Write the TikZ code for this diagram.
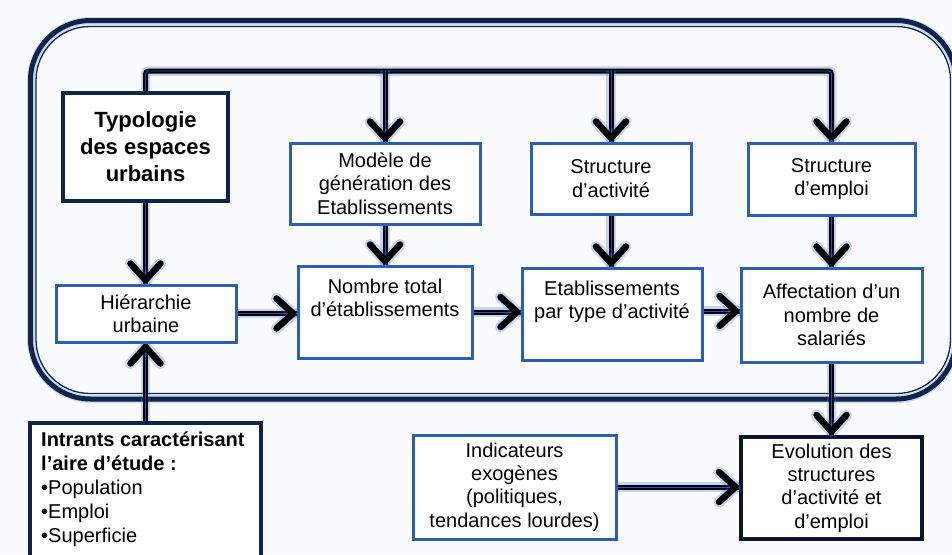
\documentclass[tikz,border=0pt]{standalone}
\usepackage{fontspec}
\setmainfont{Liberation Sans}
\usetikzlibrary{decorations.markings,calc}
\definecolor{bg}{RGB}{249,251,254}
\definecolor{navy}{RGB}{14,36,74}
\definecolor{boxblue}{RGB}{44,94,178}
\definecolor{darkb}{RGB}{10,20,45}
\definecolor{glow}{RGB}{70,125,215}
\definecolor{core}{RGB}{40,80,170}
\newcommand\ntxt{\fontsize{20}{23.3}\selectfont}
\newcommand\btxt{\fontsize{22}{27}\selectfont\bfseries}
\newcommand\itxt{\fontsize{20}{23.8}\selectfont}
\tikzset{
  chev/.style={line width=6.5pt, line cap=round, line join=round, draw=black},
  chevglow/.style={line width=11pt, line cap=round, line join=round, draw=glow, draw opacity=0.3},
  flow/.style={draw=black, line width=5pt,
    preaction={draw=glow, draw opacity=0.3, line width=9.5pt},
    postaction={draw=core, line width=0.8pt},
    postaction={decorate, decoration={markings, mark=at position 1 with {
      \draw[chevglow] (-20pt,15pt) -- (-3.5pt,0pt) -- (-20pt,-15pt);
      \draw[chev] (-20pt,15pt) -- (-3.5pt,0pt) -- (-20pt,-15pt);}}}},
  bluebox/.style={draw=boxblue, line width=3pt, fill=white, align=center, inner sep=0pt, font=\ntxt},
  navybox/.style={draw=navy, line width=4.5pt, fill=white, align=center, inner sep=0pt},
  blackbox/.style={draw=darkb, line width=4pt, fill=white, align=center, inner sep=0pt, font=\ntxt},
  txt/.style={inner sep=0pt, align=center, font=\ntxt},
}
\begin{document}
\begin{tikzpicture}[x=1pt,y=-1pt]
\useasboundingbox (0,0) rectangle (952,554);
\fill[bg] (0,0) rectangle (952,554);
\begin{scope}
\clip (0,0) rectangle (952,554);
% outer frame (double line)
\draw[glow, draw opacity=0.25, line width=8pt, rounded corners=60pt] (31,21) rectangle (956,399);
\draw[navy, line width=5pt, rounded corners=60pt] (30.5,20.5) rectangle (956,399);
\draw[navy, line width=1.3pt, rounded corners=54pt] (36,26.5) rectangle (950.5,393.5);
\end{scope}

% boxes
\node[navybox, font=\btxt, minimum width=165pt, minimum height=108pt] (typ) at (145.5,147) {Typologie\\des espaces\\urbains};
\node[bluebox, minimum width=190pt, minimum height=81pt] (mod) at (385,183.5) {Modèle de\\génération des\\Etablissements};
\node[bluebox, minimum width=160pt, minimum height=71pt] (sa) at (611,178.5) {Structure\\d’activité};
\node[bluebox, minimum width=167pt, minimum height=72pt] (se) at (831.5,179) {Structure\\d’emploi};
\node[bluebox, minimum width=180pt, minimum height=57pt] (hier) at (146,313.5) {Hiérarchie\\urbaine};
\node[bluebox, minimum width=174pt, minimum height=92pt] (nom) at (385,312) {};
\node[txt, anchor=north] at ([yshift=-14pt]nom.north) {Nombre total\\d’établissements};
\node[bluebox, minimum width=180pt, minimum height=92pt] (etab) at (612,314) {};
\node[txt, anchor=north] at ([yshift=-14pt]etab.north) {Etablissements\\par type d’activité};
\node[bluebox, minimum width=181pt, minimum height=94pt] (aff) at (831.5,315) {Affectation d’un\\nombre de\\salariés};
\node[navybox, line width=4pt, minimum width=231pt, minimum height=150pt] (int) at (145.5,498) {};
\node[txt, anchor=north west, align=left, font=\itxt] at ([xshift=13pt,yshift=-11pt]int.north west)
  {\textbf{Intrants caractérisant}\\\textbf{l’aire d’étude :}\\•Population\\•Emploi\\•Superficie};
\node[bluebox, minimum width=203pt, minimum height=104pt] (ind) at (514.5,487) {Indicateurs\\exogènes\\(politiques,\\tendances lourdes)};
\node[blackbox, minimum width=181pt, minimum height=102pt] (evo) at (831.5,488) {Evolution des\\structures\\d’activité et\\d’emploi};

% connectors
\coordinate (busy) at (0,71);
\draw[flow, rounded corners=3pt] (typ.north) -- (typ.north |- busy) -- (se.north |- busy) -- (se.north);
\draw[flow] (mod.north |- busy) -- (mod.north);
\draw[flow] (sa.north |- busy) -- (sa.north);
\draw[flow] (typ.south) -- (typ.south |- hier.north);
\draw[flow] (mod.south) -- (mod.south |- nom.north);
\draw[flow] (sa.south) -- (sa.south |- etab.north);
\draw[flow] (se.south) -- (se.south |- aff.north);
\draw[flow] (aff.south) -- (aff.south |- evo.north);
\draw[flow] (int.north) -- (int.north |- hier.south);
\draw[flow] (hier.east) -- (hier.east -| nom.west);
\draw[flow] (nom.east) -- (nom.east -| etab.west);
\draw[flow] ([yshift=3pt]etab.east) -- ([yshift=3pt]etab.east -| aff.west);
\draw[flow] (ind.east) -- (ind.east -| evo.west);
\end{tikzpicture}
\end{document}
